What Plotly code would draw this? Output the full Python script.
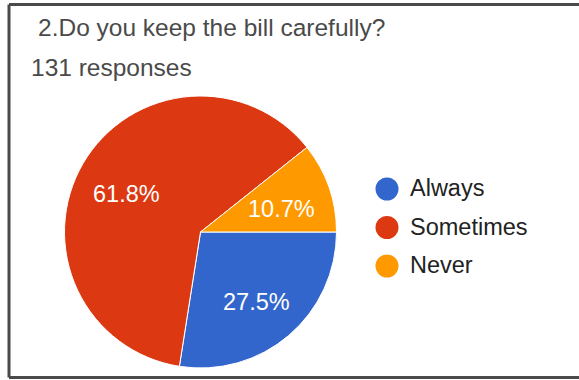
import math
import plotly.graph_objects as go

# Survey answers
categories = ["Always", "Sometimes", "Never"]
counts = [36, 81, 14]
colors = ["#3366CC", "#DC3912", "#FF9900"]
title_text = "2.Do you keep the bill carefully?"
subtitle_text = "131 responses"

W, H = 579, 380


def px(x):
    return x / W


def py(y):
    return 1 - y / H


# Pie geometry (pixels)
cx, cy, R = 200.5, 232.0, 136.0

fig = go.Figure()
fig.add_trace(go.Pie(
    labels=categories,
    values=counts,
    marker=dict(colors=colors, line=dict(color="white", width=1)),
    sort=False,
    direction="clockwise",
    rotation=90,
    textinfo="none",
    hoverinfo="label+percent",
    showlegend=False,
    domain=dict(x=[px(cx - R), px(cx + R)], y=[py(cy + R), py(cy - R)]),
))

annotations = []
shapes = []

# Percentage labels placed along each slice bisector
total = sum(counts)
start = 0.0
for v in counts:
    frac = v / total
    mid = (start + frac / 2) * 2 * math.pi  # clockwise from 3 o'clock
    start += frac
    r = 0.63 * R
    lx = cx + r * math.cos(mid)
    ly = cy + r * math.sin(mid) + 5
    annotations.append(dict(
        x=px(lx), y=py(ly), xref="paper", yref="paper",
        text=f"{frac * 100:.1f}%", showarrow=False,
        xanchor="center", yanchor="middle",
        font=dict(family="Arial", size=23.5, color="white"),
    ))

# Title lines
annotations.append(dict(
    x=px(36), y=py(27), xref="paper", yref="paper", text=title_text,
    showarrow=False, xanchor="left", yanchor="middle",
    font=dict(family="Arial", size=24.5, color="#4a4a4a"),
))
annotations.append(dict(
    x=px(29), y=py(67.5), xref="paper", yref="paper", text=subtitle_text,
    showarrow=False, xanchor="left", yanchor="middle",
    font=dict(family="Arial", size=24.5, color="#4a4a4a"),
))

# Legend: circle markers and names
legend_y0, legend_dy = 188, 38.5
for i, (name, col) in enumerate(zip(categories, colors)):
    yc = legend_y0 + i * legend_dy
    shapes.append(dict(
        type="circle", xref="paper", yref="paper",
        x0=px(375.5), x1=px(398.5), y0=py(yc + 12.5), y1=py(yc - 10.5),
        fillcolor=col, line=dict(width=0),
    ))
    annotations.append(dict(
        x=px(408), y=py(yc), xref="paper", yref="paper", text=name,
        showarrow=False, xanchor="left", yanchor="middle",
        font=dict(family="Arial", size=23.5, color="#222222"),
    ))

# Frame around the card
frame = "#4a4a4a"
shapes.append(dict(type="line", xref="paper", yref="paper",
                   x0=px(9), x1=px(W + 2), y0=py(4.5), y1=py(4.5),
                   line=dict(color=frame, width=3)))
shapes.append(dict(type="line", xref="paper", yref="paper",
                   x0=px(9), x1=px(W + 2), y0=py(377.5), y1=py(377.5),
                   line=dict(color=frame, width=3)))
shapes.append(dict(type="line", xref="paper", yref="paper",
                   x0=px(9), x1=px(9), y0=py(4.5), y1=py(377.5),
                   line=dict(color=frame, width=3)))

fig.update_layout(
    width=W, height=H,
    margin=dict(l=0, r=0, t=0, b=0),
    paper_bgcolor="white", plot_bgcolor="white",
    annotations=annotations, shapes=shapes,
)

fig.write_html("out.html")
